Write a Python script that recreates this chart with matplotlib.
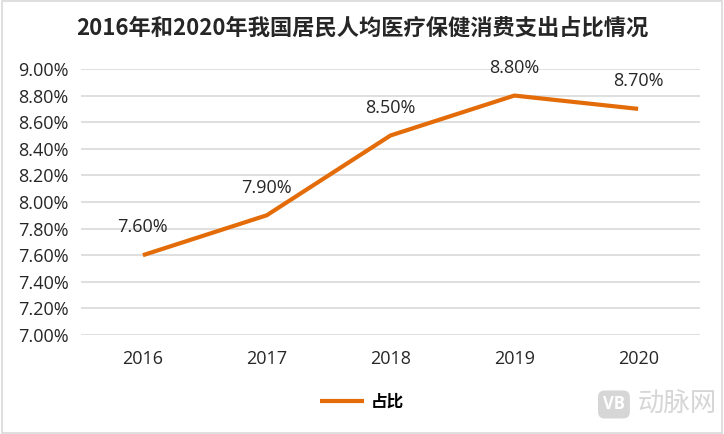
import matplotlib.pyplot as plt
from matplotlib.patches import Rectangle
from matplotlib.ticker import FuncFormatter

# data
years = ['2016', '2017', '2018', '2019', '2020']
share = [7.60, 7.90, 8.50, 8.80, 8.70]   # percent
y_ticks = [7.0, 7.2, 7.4, 7.6, 7.8, 8.0, 8.2, 8.4, 8.6, 8.8, 9.0]

plt.rcParams['font.family'] = ['Open Sans', 'Noto Sans CJK SC', 'DejaVu Sans']
line_color = '#E36C09'

fig = plt.figure(figsize=(7.24, 4.34), dpi=100)
ax = fig.add_axes([0.1119, 0.2281, 0.855, 0.613])

x = range(len(years))
line, = ax.plot(x, share, color=line_color, linewidth=3.0,
                solid_capstyle='butt', label='占比')

# data labels above each point
for xi, v in zip(x, share):
    ax.annotate(f'{v:.2f}%', (xi, v), xytext=(0, 20), textcoords='offset points',
                ha='center', va='center', fontsize=13, color='#262626')

ax.set_xlim(-0.5, len(years) - 0.5)
ax.set_ylim(7.0, 9.0)
ax.set_xticks(list(x))
ax.set_xticklabels(years)
ax.set_yticks(y_ticks)
ax.yaxis.set_major_formatter(FuncFormatter(lambda v, p: f'{v:.2f}%'))
ax.tick_params(axis='both', length=0, labelsize=13, labelcolor='#262626')
ax.tick_params(axis='y', pad=9)
ax.tick_params(axis='x', pad=11)

ax.grid(axis='y', color='#D9D9D9', linewidth=1.2)
ax.set_axisbelow(True)
for s in ax.spines.values():
    s.set_visible(False)

fig.text(0.5, 0.935, '2016年和2020年我国居民人均医疗保健消费支出占比情况',
         ha='center', va='center', fontsize=16, fontweight='bold',
         family=['Noto Sans CJK SC', 'DejaVu Sans'], color='#262626')

leg = fig.legend(handles=[line], loc='center', bbox_to_anchor=(0.5, 0.074),
                 frameon=False, handlelength=2.6, handletextpad=0.4,
                 prop={'family': ['Noto Sans CJK SC', 'DejaVu Sans'],
                       'weight': 'bold', 'size': 12})

# watermark
fig.text(0.848, 0.068, 'VB', ha='center', va='center', fontsize=12, fontweight='bold',
         color='white', bbox=dict(boxstyle='round,pad=0.3,rounding_size=0.4',
                                  fc='#D6D6D6', ec='none'))
fig.text(0.935, 0.068, '动脉网', ha='center', va='center', fontsize=19,
         family=['Noto Sans CJK SC', 'DejaVu Sans'], color='#D6D6D6')

# light frame around the picture
fig.patches.append(Rectangle((0.003, 0.003), 0.994, 0.994, transform=fig.transFigure,
                             fill=False, ec='#D9D9D9', lw=1.2))

fig.savefig('out.png', dpi=100)
